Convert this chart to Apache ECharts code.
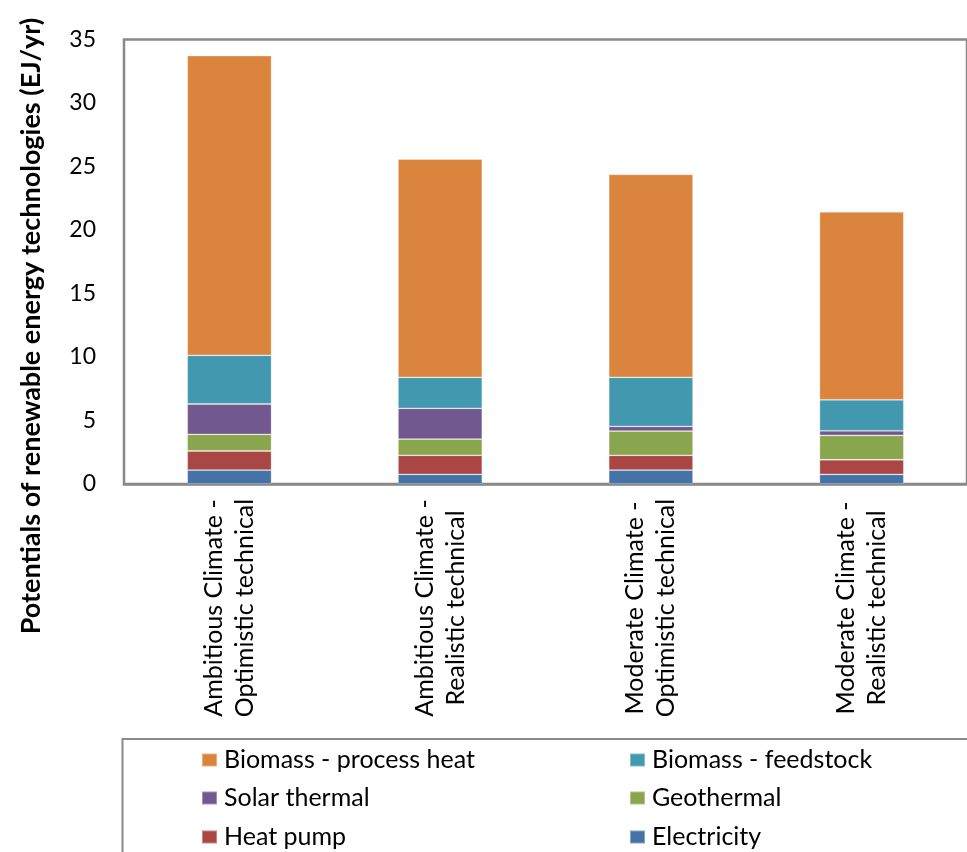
<!DOCTYPE html>
<html>
<head>
<meta charset="utf-8">
<script src="https://cdn.jsdelivr.net/npm/echarts@6/dist/echarts.min.js"></script>
<style>
  html, body { margin: 0; padding: 0; background: #fff; }
  #chart { width: 967px; height: 852px; }
</style>
</head>
<body>
<div id="chart"></div>
<script>
// Scenario categories (two-line labels)
const categories = [
  'Ambitious Climate -\nOptimistic technical',
  'Ambitious Climate -\nRealistic technical',
  'Moderate Climate -\nOptimistic technical',
  'Moderate Climate -\nRealistic technical'
];

// Potentials per technology, EJ/yr (stacked bottom to top)
const electricity   = [1.10, 0.76, 1.10, 0.76];
const heatPump      = [1.50, 1.50, 1.16, 1.15];
const geothermal    = [1.31, 1.28, 1.91, 1.92];
const solarThermal  = [2.39, 2.42, 0.37, 0.36];
const bioFeedstock  = [3.83, 2.44, 3.86, 2.44];
const bioProcess    = [23.60, 17.19, 15.98, 14.80];

const yTicks = { min: 0, max: 35, interval: 5 };

// Legend layout: rows of [left column, right column]
const legendRows = [
  ['Biomass - process heat', 'Biomass - feedstock'],
  ['Solar thermal', 'Geothermal'],
  ['Heat pump', 'Electricity']
];

const FONT = 'Lato, "Open Sans", sans-serif';

const seriesDefs = [
  { name: 'Electricity',            data: electricity,  color: '#4572A7' },
  { name: 'Heat pump',              data: heatPump,     color: '#AA4643' },
  { name: 'Geothermal',             data: geothermal,   color: '#89A54E' },
  { name: 'Solar thermal',          data: solarThermal, color: '#71588F' },
  { name: 'Biomass - feedstock',    data: bioFeedstock, color: '#4198AF' },
  { name: 'Biomass - process heat', data: bioProcess,   color: '#DB843D' }
];

// One legend component per entry so the two columns line up exactly
const colLeft = [201, 629];
const rowCenter = [760, 798, 837];
const legends = [];
legendRows.forEach((row, r) => {
  row.forEach((name, c) => {
    legends.push({
      data: [name],
      left: colLeft[c],
      top: rowCenter[r] - 14,
      padding: 0,
      icon: 'rect',
      itemWidth: 15,
      itemHeight: 13,
      selectedMode: false,
      textStyle: { fontFamily: FONT, fontSize: 25, color: '#000', lineHeight: 28, padding: [0, 0, 0, 2] }
    });
  });
});

const chart = echarts.init(document.getElementById('chart'), null, { renderer: 'canvas' });

chart.setOption({
  animation: false,
  backgroundColor: '#fff',
  color: seriesDefs.map(s => s.color),
  grid: {
    left: 124, top: 39.5, width: 852, height: 444.5,
    show: true, borderColor: '#898989', borderWidth: 2.5, backgroundColor: 'transparent'
  },
  legend: legends,
  xAxis: {
    type: 'category',
    data: categories,
    axisLine: { show: true, lineStyle: { color: '#898989', width: 2.5 } },
    axisTick: { show: false },
    axisLabel: {
      rotate: 90,
      align: 'center',
      margin: 124,
      interval: 0,
      fontFamily: FONT,
      fontSize: 25,
      lineHeight: 31,
      color: '#000'
    }
  },
  yAxis: {
    type: 'value',
    min: yTicks.min, max: yTicks.max, interval: yTicks.interval,
    axisLine: { show: false },
    axisTick: { show: false },
    splitLine: { show: false },
    axisLabel: { fontFamily: FONT, fontSize: 23, color: '#000', margin: 28 }
  },
  graphic: [
    {
      type: 'text',
      x: 31, y: 326,
      rotation: Math.PI / 2,
      style: {
        text: 'Potentials of renewable energy technologies (EJ/yr)',
        fontFamily: FONT, fontSize: 27, fontWeight: 'bold', fill: '#000',
        align: 'center', verticalAlign: 'middle'
      }
    },
    {
      type: 'rect',
      shape: { x: 122.5, y: 739, width: 900, height: 200 },
      style: { fill: 'none', stroke: '#898989', lineWidth: 2 }
    }
  ],
  series: seriesDefs.map(s => ({
    name: s.name,
    type: 'bar',
    stack: 'total',
    barCategoryGap: '60%',
    data: s.data,
    itemStyle: { color: s.color, borderColor: 'rgba(255,255,255,0.35)', borderWidth: 0.8 }
  }))
});
</script>
</body>
</html>
